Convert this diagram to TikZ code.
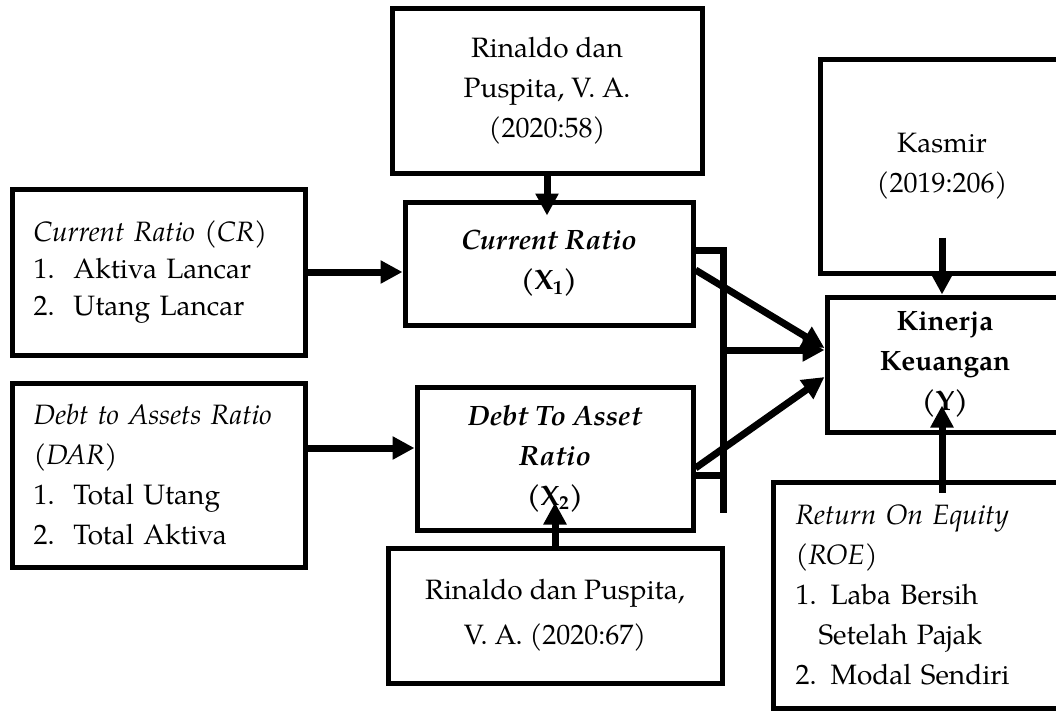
\documentclass[tikz,border=0pt]{standalone}
\usepackage{fontspec}
\setmainfont{TeX Gyre Pagella}
\usetikzlibrary{arrows.meta,calc}
\begin{document}
\begin{tikzpicture}[x=1pt,y=-1pt,
  box/.style={draw, line width=5pt, rectangle, inner sep=0pt, line join=miter,
    font=\fontsize{28}{40}\selectfont},
  arr/.style={line width=7pt, -{Triangle[length=22pt,width=22pt]}},
  ln/.style={line width=7pt, line join=miter},
]
\useasboundingbox (0,0) rectangle (1056,710);
\clip (0,0) rectangle (1056,710);

\node[box, minimum width=310pt, minimum height=165pt, align=center] (topR) at (547,90.5)
  {Rinaldo dan\\Puspita, V. A.\\(2020:58)};
\node[box, minimum width=288pt, minimum height=123pt, align=center] (cr) at (549,263.5)
  {{\bfseries\itshape Current Ratio}\\{\bfseries (X\textsubscript{1})}};
\node[box, minimum width=276pt, minimum height=143pt, align=center] (dar) at (555,458.5)
  {{\bfseries\itshape Debt To Asset}\\{\bfseries\itshape Ratio}\\{\bfseries (X\textsubscript{2})}};
\node[box, minimum width=334pt, minimum height=135pt, align=center,
  font=\fontsize{28}{45}\selectfont] (botR) at (555,615.5)
  {Rinaldo dan Puspita,\\V. A. (2020:67)};
\node[box, minimum width=293pt, minimum height=166pt, text width=250pt, align=left,
  font=\fontsize{28}{37}\selectfont] (lcr) at (158.5,272)
  {{\itshape Current Ratio (CR)}\\\makebox[40pt][l]{1.}Aktiva Lancar\\\makebox[40pt][l]{2.}Utang Lancar};
\node[box, minimum width=293pt, minimum height=184pt, text width=250pt, align=left] (ldar) at (158.5,475)
  {{\itshape Debt to Assets Ratio}\\{\itshape (DAR)}\\\makebox[40pt][l]{1.}Total Utang\\\makebox[40pt][l]{2.}Total Aktiva\par\vspace{16pt}};
\node[box, minimum width=244pt, minimum height=214pt, align=center] (kas) at (942,166)
  {Kasmir\\(2019:206)};
\node[box, minimum width=236pt, minimum height=135pt, align=center] (kin) at (945,364.5)
  {{\bfseries Kinerja}\\{\bfseries Keuangan}\\{\bfseries (Y)}};
\node[box, minimum width=307pt, minimum height=226pt, text width=262pt, align=left] (roe) at (926.5,595)
  {{\itshape Return On Equity}\\{\itshape (ROE)}\\1. Laba Bersih\\\hspace*{23pt}Setelah Pajak\\2. Modal Sendiri};

% vertical inputs
\draw[arr] (topR.south) -- ($(topR.south |- cr.north)+(0,16)$);
\draw[arr] (botR.north) -- ($(botR.north |- dar.south)+(0,-30)$);
\draw[arr] ($(kas.south)+(0,-38)$) -- (kas.south |- kin.north);
\coordinate (roeIn) at ($(roe.north -| kas.south)+(0,13)$);
\draw[arr] (roeIn) -- ($(roeIn |- kin.south)+(0,-29)$);

% left inputs
\draw[arr] (lcr.east) -- (cr.west |- lcr.east);
\coordinate (ldarOut) at ($(ldar.east)+(0,-27)$);
\draw[arr] (ldarOut) -- (dar.west |- ldarOut);

% bracket
\coordinate (jt) at (723,250);
\coordinate (jm) at (723,350);
\coordinate (jd) at (723,475);
\coordinate (jb) at (723,513);
\draw[ln] (cr.east |- jt) -- (jt) -- (jb);
\draw[ln] (dar.east |- jd) -- (jd);
\draw[arr] (jm) -- (kin.west |- jm);

% diagonals
\draw[arr] ($(cr.east)+(0,6.5)$) -- ($(kin.west)+(0,-16.5)$);
\draw[arr] ($(dar.east)+(0,9.5)$) -- ($(kin.west)+(0,12.5)$);
\end{tikzpicture}
\end{document}
